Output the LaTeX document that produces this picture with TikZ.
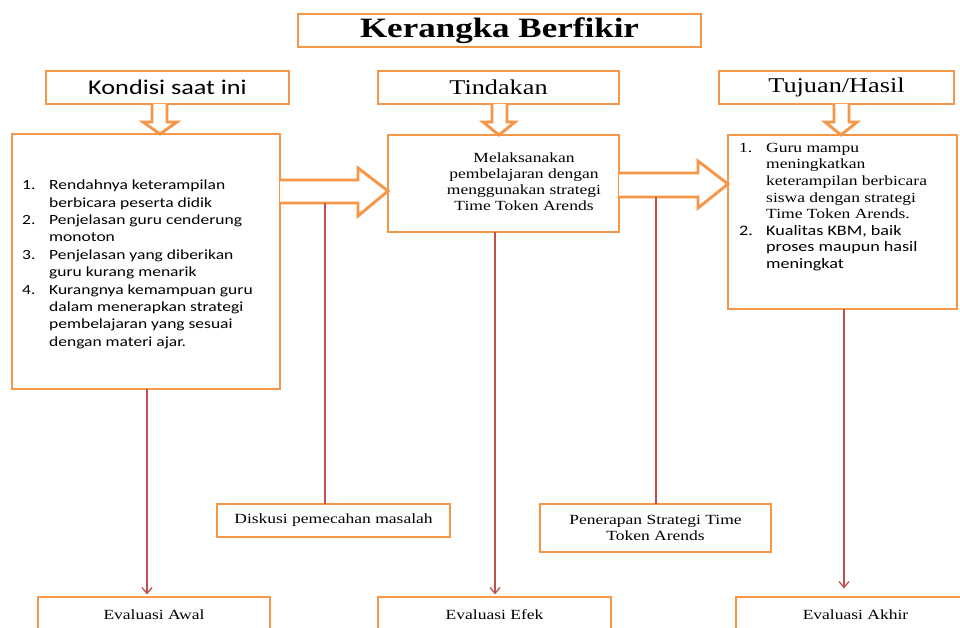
\documentclass[tikz,border=0pt]{standalone}
\usepackage{fontspec}
\setmainfont{Liberation Serif}[FakeStretch=1.25]
\newfontfamily\calib{Carlito}[FakeStretch=1.25]
\usetikzlibrary{arrows.meta,calc}
\definecolor{org}{HTML}{F79646}
\definecolor{redl}{HTML}{C0504D}
\newcommand\sfx{\calib\fontsize{14.5}{16.6}\selectfont}
\begin{document}
\begin{tikzpicture}[x=1pt,y=-1pt,
  box/.style={draw=org, line width=2.9pt, fill=white, inner sep=0pt, outer sep=0pt, anchor=north west},
  blk/.style={draw=org, line width=2.9pt, fill=white, line join=miter},
  rl/.style={draw=redl, line width=1.5pt},
  rla/.style={rl, -{Straight Barb[length=6pt,width=10pt,line width=1.3pt]}},
  hdr/.style={font=\fontsize{21}{25}\selectfont},
  small/.style={font=\fontsize{14}{16.2}\selectfont, align=center}]
\clip (0,0) rectangle (960,628);
\fill[white] (0,0) rectangle (960,628);

% title and headers
\node[box, minimum width=403pt, minimum height=33pt, font=\bfseries\fontsize{28}{32}\selectfont] (title) at (298,14) {Kerangka Berfikir};
\node[box, minimum width=243pt, minimum height=33pt, font=\calib\fontsize{21}{25}\selectfont] (kh) at (46,71) {Kondisi saat ini};
\node[box, minimum width=241pt, minimum height=33pt, hdr] (th) at (378,71) {Tindakan};
\node[box, minimum width=235pt, minimum height=33pt, hdr] (jh) at (719,71) {Tujuan/Hasil};

% main boxes
\node[box, minimum width=268pt, minimum height=255pt] (kb) at (12,134) {};
\node[box, minimum width=231pt, minimum height=97pt] (tb) at (388,135) {};
\node[box, minimum width=229pt, minimum height=174pt] (jb) at (728,135) {};

% down block arrows
\draw[blk] (kh.south -| 152,0) -- (152,122) -- (143,122) -- (kb.north -| 160,0) -- (177,122) -- (167,122) -- (kh.south -| 167,0);
\draw[blk] (th.south -| 492,0) -- (492,122) -- (483,122) -- (tb.north -| 499,0) -- (515,122) -- (507,122) -- (th.south -| 507,0);
\draw[blk] (jh.south -| 834,0) -- (834,122) -- (825,122) -- (jb.north -| 841,0) -- (857,122) -- (849,122) -- (jh.south -| 849,0);

% horizontal block arrows
\draw[blk] (kb.east |- 0,180) -- (358,180) -- (358,168) -- (tb.west |- 0,191) -- (358,216) -- (358,203) -- (kb.east |- 0,203);
\draw[blk] (tb.east |- 0,173) -- (698,173) -- (698,161) -- (jb.west |- 0,184) -- (698,208) -- (698,197) -- (tb.east |- 0,197);

% texts in main boxes
\node[anchor=north west, inner sep=0pt, align=left, font=\calib\fontsize{14}{17.4}\selectfont] (klist) at (22,176.5) {%
\rule{0pt}{13pt}\makebox[27pt][l]{1.}Rendahnya keterampilan\\
\hspace*{27pt}berbicara peserta didik\\
\makebox[27pt][l]{2.}Penjelasan guru cenderung\\
\hspace*{27pt}monoton\\
\makebox[27pt][l]{3.}Penjelasan yang diberikan\\
\hspace*{27pt}guru kurang menarik\\
\makebox[27pt][l]{4.}Kurangnya kemampuan guru\\
\hspace*{27pt}dalam menerapkan strategi\\
\hspace*{27pt}pembelajaran yang sesuai\\
\hspace*{27pt}dengan materi ajar.};

\node[anchor=north, inner sep=0pt, small, font=\fontsize{14}{16}\selectfont] (ttext) at (524,149.5) {%
\rule{0pt}{13pt}Melaksanakan\\
pembelajaran dengan\\
menggunakan strategi\\
Time Token Arends};

\node[anchor=north west, inner sep=0pt, align=left, font=\fontsize{14}{16.6}\selectfont] (jlist) at (739,139) {%
\rule{0pt}{13pt}\makebox[27pt][l]{1.}Guru mampu\\
\hspace*{27pt}meningkatkan\\
\hspace*{27pt}keterampilan berbicara\\
\hspace*{27pt}siswa dengan strategi\\
\hspace*{27pt}Time Token Arends.\\
\makebox[27pt][l]{\sfx 2.}{\sfx Kualitas KBM, baik}\\
\hspace*{27pt}{\sfx proses maupun hasil}\\
\hspace*{27pt}{\sfx meningkat}};

% lower boxes
\node[box, minimum width=233pt, minimum height=33pt, small] (dk) at (217,504) {Diskusi pemecahan masalah};
\node[box, minimum width=231pt, minimum height=48pt, small] (pn) at (540,504) {Penerapan Strategi Time\\Token Arends};
\node[box, minimum width=232pt, minimum height=35pt, small] (ea) at (38,597) {Evaluasi Awal};
\node[box, minimum width=233pt, minimum height=35pt, small] (ee) at (378,597) {Evaluasi Efek};
\node[box, minimum width=239pt, minimum height=35pt, small] (ek) at (736,597) {Evaluasi Akhir};

% red connectors
\coordinate (a1b) at (325,203);
\coordinate (a2b) at (656,197);
\draw[rla, shorten >=2.5pt] (kb.south -| 147,0) -- (ea.north -| 147,0);
\draw[rl] (a1b) -- (dk.north -| a1b);
\draw[rla, shorten >=2.5pt] (tb.south -| 495,0) -- (ee.north -| 495,0);
\draw[rl] (a2b) -- (pn.north -| a2b);
\draw[rla, shorten >=8.5pt] (jb.south -| 844,0) -- (ek.north -| 844,0);
\end{tikzpicture}
\end{document}
